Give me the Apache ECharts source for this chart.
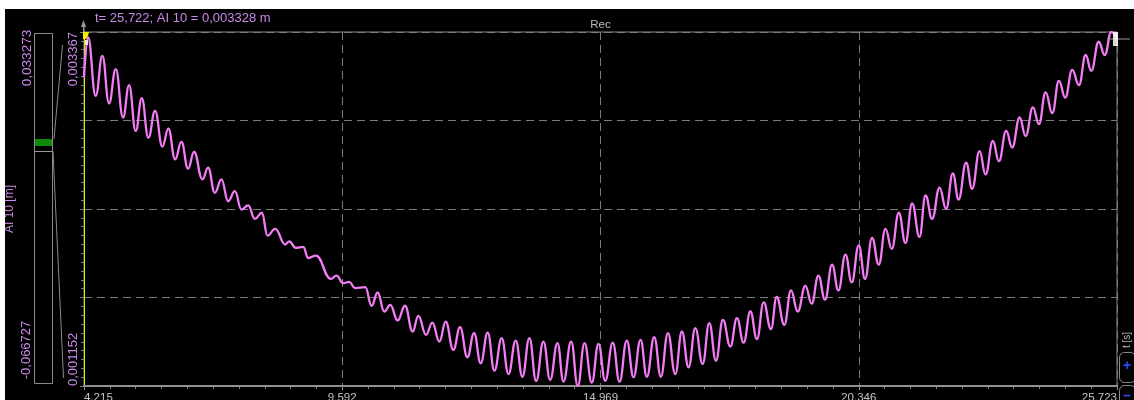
<!DOCTYPE html>
<html>
<head>
<meta charset="utf-8">
<script src="https://cdn.jsdelivr.net/npm/echarts@6/dist/echarts.min.js"></script>
<style>
  html, body { margin: 0; padding: 0; background: #000; }
  #main { width: 1134px; height: 400px; }
</style>
</head>
<body>
<div id="main"></div>
<script>
// Recorded channel AI 10: turning points of the oscillating displacement signal
const timeS = [
  4.215, 4.298, 4.459, 4.597, 4.736, 4.876, 5.028, 5.153, 5.292, 5.417, 5.555, 5.695, 5.847, 5.972, 6.112, 6.243, 6.382, 6.507, 6.681, 6.799,
  6.939, 7.077, 7.216, 7.356, 7.493, 7.633, 7.773, 7.918, 8.035, 8.196, 8.404, 8.487, 8.627, 8.779, 8.883, 9.044, 9.356, 9.473, 9.613, 9.738,
  9.857, 10.071, 10.203, 10.328, 10.467, 10.592, 10.745, 10.899, 11.057, 11.176, 11.336,
  11.468, 11.614, 11.745, 11.905, 12.045, 12.197, 12.337, 12.474, 12.620, 12.760, 12.912, 13.052, 13.204, 13.343, 13.489, 13.629, 13.781, 13.921, 14.073, 14.198,
  14.358, 14.496, 14.636, 14.788, 14.927, 15.067, 15.225, 15.365, 15.517, 15.657, 15.803, 15.934, 16.088, 16.226, 16.372, 16.526, 16.663, 16.803, 16.943, 17.095,
  17.234, 17.372, 17.518, 17.672, 17.810, 17.949, 18.089, 18.226, 18.366, 18.518,
  18.637, 18.797, 18.935, 19.075, 19.235, 19.366, 19.506, 19.644, 19.790, 19.923, 20.069, 20.200, 20.346, 20.477, 20.623, 20.763, 20.902, 21.034, 21.180, 21.319,
  21.457, 21.611, 21.736, 21.874, 22.028, 22.165, 22.305, 22.424, 22.582, 22.707, 22.861, 22.986, 23.139, 23.264, 23.416, 23.541, 23.695, 23.820, 23.972, 24.097,
  24.237, 24.375, 24.514, 24.645, 24.791, 24.931, 25.071, 25.187, 25.342, 25.467, 25.604, 25.722
];
const ai10 = [
  0.003083, 0.003334, 0.002967, 0.003218, 0.002921, 0.003135, 0.002832, 0.003034, 0.002748, 0.002953, 0.002706, 0.002873, 0.002650, 0.002763, 0.002570, 0.002679, 0.002512, 0.002616, 0.002445, 0.002518,
  0.002361, 0.002445, 0.002308, 0.002371, 0.002256, 0.002282, 0.002198, 0.002236, 0.002093, 0.002135, 0.002037, 0.002057, 0.002016, 0.002022, 0.001953, 0.001968, 0.001822, 0.001842, 0.001796, 0.001803,
  0.001765, 0.001771, 0.001654, 0.001737, 0.001618, 0.001660, 0.001562, 0.001654, 0.001493, 0.001591, 0.001472,
  0.001549, 0.001430, 0.001555, 0.001378, 0.001520, 0.001332, 0.001483, 0.001294, 0.001486, 0.001248, 0.001451, 0.001227, 0.001436, 0.001210, 0.001451, 0.001183, 0.001430, 0.001190, 0.001420, 0.001179,
  0.001430, 0.001152, 0.001420, 0.001173, 0.001416, 0.001185, 0.001424, 0.001179, 0.001436, 0.001207, 0.001441, 0.001210, 0.001458, 0.001210, 0.001483, 0.001227, 0.001493, 0.001269, 0.001514, 0.001290,
  0.001545, 0.001311, 0.001566, 0.001399, 0.001577, 0.001424, 0.001618, 0.001445, 0.001675, 0.001508,
  0.001709, 0.001535, 0.001750, 0.001618, 0.001779, 0.001667, 0.001842, 0.001692, 0.001911, 0.001750, 0.001974, 0.001800, 0.002031, 0.001822, 0.002079, 0.001911, 0.002135, 0.002010, 0.002236, 0.002047,
  0.002294, 0.002085, 0.002344, 0.002198, 0.002393, 0.002261, 0.002482, 0.002319, 0.002549, 0.002386, 0.002622, 0.002476, 0.002685, 0.002559, 0.002748, 0.002644, 0.002832, 0.002716, 0.002895, 0.002790,
  0.002989, 0.002859, 0.003061, 0.002957, 0.003130, 0.003034, 0.003223, 0.003124, 0.003306, 0.003223, 0.003367, 0.003328
];

// Axis range and tick labels
const tStart = 4.215, tEnd = 25.723, tStep = 5.377;
const yMin = 0.001152, yMax = 0.003367;
const overviewTop = '0,033273', overviewBottom = '-0,066727';
const channelName = 'AI 10 [m]';
const cursorText = 't= 25,722; AI 10 = 0,003328 m';
const titleText = 'Rec';
const timeAxisName = 't [s]';

const points = timeS.map((t, i) => [t, ai10[i]]).filter(p => p[1] !== undefined);

const FONT = 'Liberation Sans, Arial, sans-serif';
const LABEL = '#c98ae8';
const GRIDC = '#7c7c7c';
const fmtComma = v => v.toFixed(6).replace('.', ',');

const chart = echarts.init(document.getElementById('main'), null, { renderer: 'canvas' });

chart.setOption({
  backgroundColor: '#000',
  animation: false,
  grid: {
    left: 84, right: 17, top: 32, bottom: 14, outerBoundsMode: 'none', containLabel: false,
    show: true, borderColor: '#8a8a8a', borderWidth: 1, backgroundColor: 'transparent'
  },
  xAxis: {
    type: 'value', min: tStart, max: tEnd, interval: tStep,
    axisLine: { show: true, onZero: false, lineStyle: { color: '#909090', width: 2 } },
    axisTick: { show: true, length: 4, lineStyle: { color: '#909090' } },
    minorTick: { show: true, splitNumber: 10, length: 3, lineStyle: { color: '#808080' } },
    axisLabel: {
      color: '#c4c4c4', fontFamily: FONT, fontSize: 11.5, margin: 6,
      formatter: v => v.toFixed(3), alignMinLabel: 'left', alignMaxLabel: 'right'
    },
    splitLine: { show: true, lineStyle: { color: GRIDC, type: [8, 5], width: 1 } }
  },
  yAxis: {
    type: 'value', min: yMin, max: yMax, interval: (yMax - yMin) / 4,
    axisLine: { show: true, onZero: false, lineStyle: { color: '#e4e400', width: 1 } },
    axisTick: { show: true, length: 4, lineStyle: { color: '#808080' } },
    minorTick: { show: true, splitNumber: 10, length: 3, lineStyle: { color: '#808080' } },
    axisLabel: { show: false },
    splitLine: { show: true, lineStyle: { color: GRIDC, type: [8, 5], width: 1 } }
  },
  series: [{
    type: 'line', data: points, showSymbol: false, smooth: 0.45, smoothMonotone: 'x',
    lineStyle: { color: '#f47cf4', width: 2.3 }, z: 3
  }]
});

// Decorations positioned from the axes
const yTopPx = chart.convertToPixel({ yAxisIndex: 0 }, yMax);
const yBotPx = chart.convertToPixel({ yAxisIndex: 0 }, yMin);
const xLeftPx = chart.convertToPixel({ xAxisIndex: 0 }, tStart);
const xRightPx = chart.convertToPixel({ xAxisIndex: 0 }, tEnd);
const midX = (xLeftPx + xRightPx) / 2;

const vText = (text, x, y, align, color, size) => ({
  type: 'text', x, y, rotation: Math.PI / 2, z: 20,
  style: { text, fill: color, font: `${size}px ${FONT}`, textAlign: align, textVerticalAlign: 'middle' }
});

chart.setOption({
  graphic: [
    // frame strips
    { type: 'rect', shape: { x: 0, y: 0, width: 1134, height: 9 }, style: { fill: '#fff' }, z: 30 },
    { type: 'rect', shape: { x: 0, y: 0, width: 5, height: 400 }, style: { fill: '#fff' }, z: 30 },
    // cursor readout and title
    { type: 'text', x: xLeftPx + 11, y: 18, z: 20,
      style: { text: cursorText, fill: LABEL, font: `13px ${FONT}`, textVerticalAlign: 'middle' } },
    { type: 'text', x: midX, y: 25, z: 20,
      style: { text: titleText, fill: '#bdbdbd', font: `11.5px ${FONT}`, textAlign: 'center', textVerticalAlign: 'middle' } },
    // overview bar with visible window
    { type: 'rect', shape: { x: 34.5, y: 33.5, width: 18, height: 350 },
      style: { fill: 'transparent', stroke: '#8a8a8a', lineWidth: 1 }, z: 10 },
    { type: 'rect', shape: { x: 35, y: 139, width: 17, height: 7 }, style: { fill: '#0b8a0b' }, z: 11 },
    { type: 'line', shape: { x1: 35, y1: 151.5, x2: 52, y2: 151.5 }, style: { stroke: '#9a9a9a', lineWidth: 1 }, z: 11 },
    { type: 'line', shape: { x1: 54, y1: 139, x2: 62.5, y2: 45 }, style: { stroke: '#8a8a8a', lineWidth: 1 }, z: 11 },
    { type: 'line', shape: { x1: 53, y1: 151, x2: 63.5, y2: 378 }, style: { stroke: '#8a8a8a', lineWidth: 1 }, z: 11 },
    // rotated labels
    vText(overviewTop, 27, 58, 'center', LABEL, 13.5),
    vText(overviewBottom, 26, 350, 'center', LABEL, 13),
    vText(channelName, 10, 209, 'center', LABEL, 12),
    vText(fmtComma(yMax), 73, yTopPx, 'right', LABEL, 13),
    vText(fmtComma(yMin), 73, yBotPx, 'left', LABEL, 13),
    // start marker on the axis
    { type: 'polygon', shape: { points: [[81, 27], [83.5, 20], [86, 27]] }, style: { fill: '#9a9a9a' }, z: 21 },
    { type: 'rect', shape: { x: 83, y: 27, width: 1.5, height: 5 }, style: { fill: '#9a9a9a' }, z: 21 },
    { type: 'polygon', shape: { points: [[xLeftPx - 1, yTopPx], [xLeftPx + 5, yTopPx], [xLeftPx + 4, yTopPx + 4], [xLeftPx + 2, yTopPx + 7], [xLeftPx - 1, yTopPx + 7]] },
      style: { fill: '#f0f000' }, z: 21 },
    { type: 'rect', shape: { x: xLeftPx + 1, y: yTopPx + 8, width: 3, height: 5 }, style: { fill: '#e8e8e8' }, z: 21 },
    // cursor marker at the end of the record
    { type: 'line', shape: { x1: xRightPx - 10, y1: 39, x2: xRightPx + 13, y2: 39 }, style: { stroke: '#9a9a9a', lineWidth: 1 }, z: 21 },
    { type: 'rect', shape: { x: xRightPx - 4, y: yTopPx, width: 5, height: 14 }, style: { fill: 'rgba(255,255,255,0.85)' }, z: 21 },
    // time axis side panel
    vText(timeAxisName, 1127, 340, 'center', '#bdbdbd', 10),
    { type: 'rect', shape: { x: 1119.5, y: 352.5, width: 16, height: 30, r: 5 }, style: { fill: 'transparent', stroke: '#8a8a8a', lineWidth: 1 }, z: 21 },
    { type: 'text', x: 1127, y: 366, z: 22, style: { text: '+', fill: '#2a4cff', font: `bold 14px ${FONT}`, textAlign: 'center', textVerticalAlign: 'middle' } },
    { type: 'rect', shape: { x: 1119.5, y: 385.5, width: 16, height: 20, r: 5 }, style: { fill: 'transparent', stroke: '#8a8a8a', lineWidth: 1 }, z: 21 },
    { type: 'text', x: 1127, y: 396, z: 22, style: { text: '–', fill: '#2a4cff', font: `bold 14px ${FONT}`, textAlign: 'center', textVerticalAlign: 'middle' } }
  ]
});
</script>
</body>
</html>
